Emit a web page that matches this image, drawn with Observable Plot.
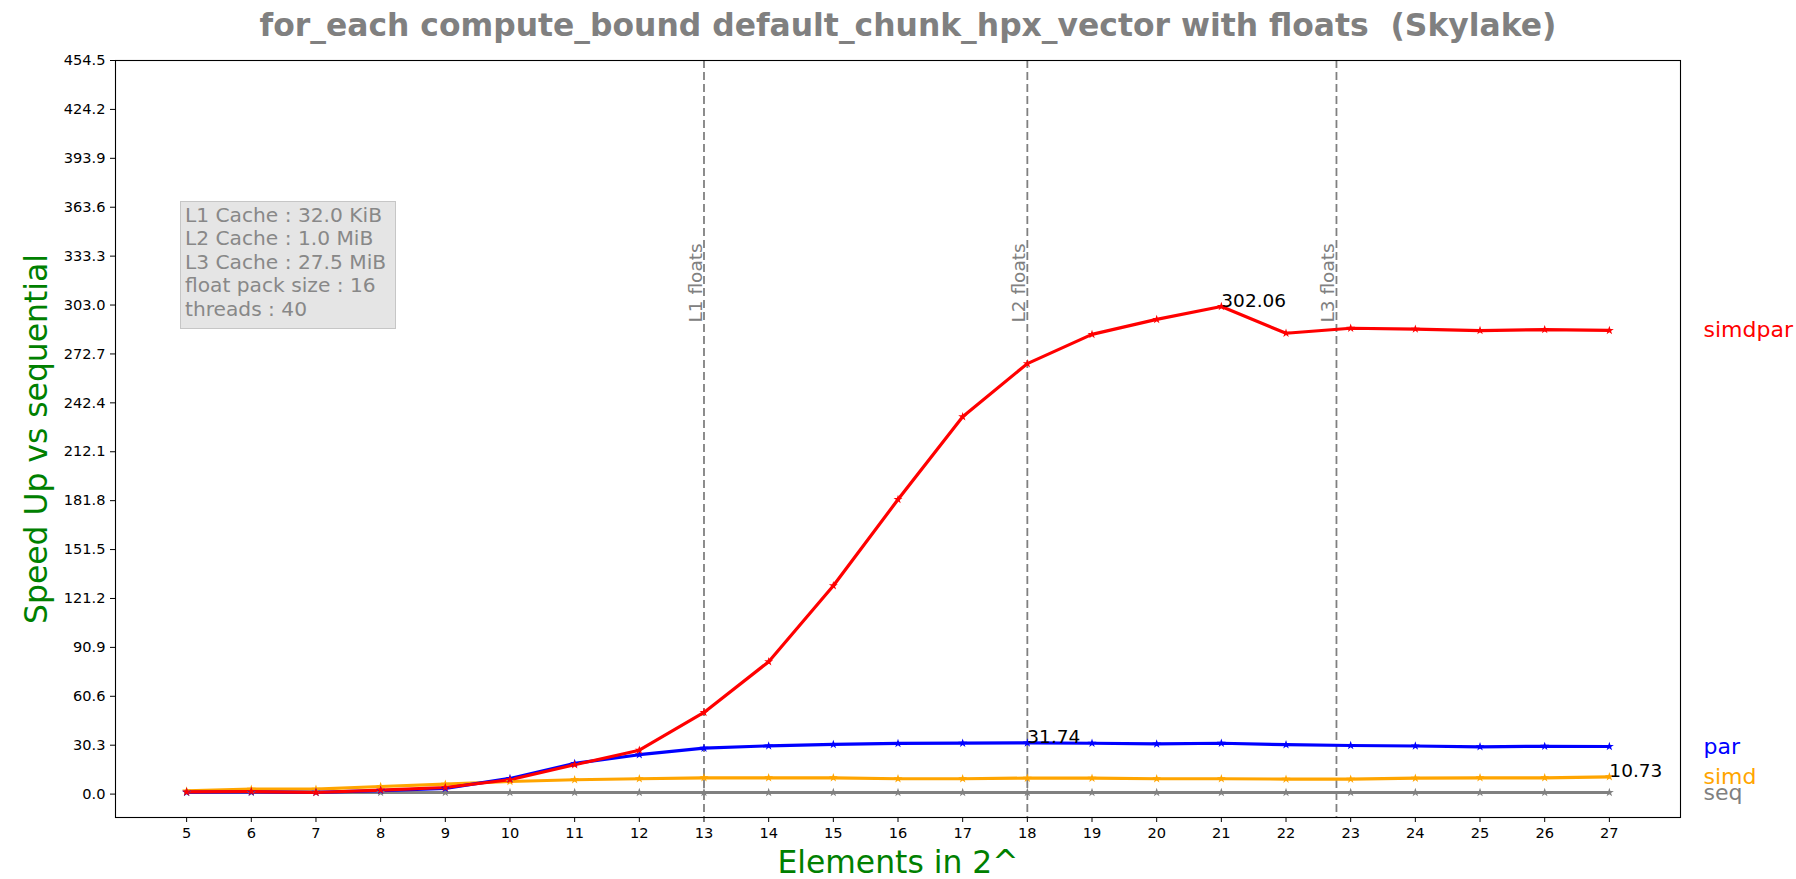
<!DOCTYPE html>
<html>
<head>
<meta charset="utf-8">
<script src="https://cdn.jsdelivr.net/npm/d3@7"></script>
<script src="https://cdn.jsdelivr.net/npm/@observablehq/plot@0.6"></script>
<style>
  html, body { margin: 0; padding: 0; background: #fff; }
  #wrap { position: relative; width: 1796px; height: 879px; }
  svg text { white-space: pre; }
  #info {
    position: absolute; left: 180px; top: 201px; width: 216px; height: 128px;
    box-sizing: border-box; background: #e5e5e5; border: 1.5px solid #c6c6c6;
    font-family: "DejaVu Sans", sans-serif; font-size: 20.2px; line-height: 23.6px;
    color: #888; padding: 1.5px 0 0 4px; white-space: pre;
  }
</style>
</head>
<body>
<div id="wrap"></div>
<script>
// ---- data ----
const xs = [5, 6, 7, 8, 9, 10, 11, 12, 13, 14, 15, 16, 17, 18, 19, 20, 21, 22, 23, 24, 25, 26, 27];
const seq = [1, 1, 1, 1, 1, 1, 1, 1, 1, 1, 1, 1, 1, 1, 1, 1, 1, 1, 1, 1, 1, 1, 1];
const simd = [2.0, 3.1, 3.1, 4.7, 6.2, 7.8, 8.9, 9.5, 10.1, 10.1, 10.1, 9.5, 9.5, 9.9, 9.9, 9.5, 9.5, 9.3, 9.3, 9.9, 10.1, 10.1, 10.73];
const par = [1.2, 1.4, 1.1, 2.2, 3.5, 9.7, 19.0, 24.4, 28.5, 29.9, 30.8, 31.4, 31.6, 31.74, 31.5, 31.1, 31.5, 30.6, 30.1, 29.8, 29.3, 29.6, 29.5];
const simdpar = [1.4, 1.6, 1.0, 2.5, 4.1, 8.9, 18.2, 27.2, 50.6, 82.0, 129.1, 182.5, 233.8, 266.7, 284.8, 294.1, 302.06, 285.5, 288.6, 288.1, 287.2, 287.8, 287.3];
const seriesNames = ["seq", "simd", "par", "simdpar"];
const seriesColors = ["gray", "orange", "blue", "red"];
const annotatedSeries = ["simd", "par", "simdpar"];
const cacheX = [13, 18, 22.78];
const cacheLabels = ["L1 floats", "L2 floats", "L3 floats"];
const xTicks = [5, 6, 7, 8, 9, 10, 11, 12, 13, 14, 15, 16, 17, 18, 19, 20, 21, 22, 23, 24, 25, 26, 27];
const yTicks = [0.0, 30.3, 60.6, 90.9, 121.2, 151.5, 181.8, 212.1, 242.4, 272.7, 303.0, 333.3, 363.6, 393.9, 424.2, 454.5];
const infoLines = ["L1 Cache : 32.0 KiB", "L2 Cache : 1.0 MiB", "L3 Cache : 27.5 MiB", "float pack size : 16", "threads : 40"];
const title = "for_each compute_bound default_chunk_hpx_vector with floats  (Skylake)";
const xLabel = "Elements in 2^";
const yLabel = "Speed Up vs sequential";

// ---- build table ----
const valuesBySeries = {seq, simd, par, simdpar};
const rows = seriesNames.flatMap(name => xs.map((x, j) => ({x, y: valuesBySeries[name][j], series: name})));
const lastRows = seriesNames.map(name => rows.filter(r => r.series === name).at(-1));
const maxRows = annotatedSeries.map(name => d3.greatest(rows.filter(r => r.series === name), r => r.y));
const cacheRows = cacheX.map((x, i) => ({x, label: cacheLabels[i]}));

const font = "DejaVu Sans, sans-serif";

const chart = Plot.plot({
  width: 1796,
  height: 879,
  marginLeft: 115,
  marginRight: 116,
  marginTop: 60,
  marginBottom: 62,
  style: {fontFamily: font, fontSize: "14.6px", color: "#000", background: "#fff", overflow: "visible"},
  x: {domain: [3.9, 28.1]},
  y: {domain: [-14.5, 454.5]},
  color: {domain: seriesNames, range: seriesColors},
  marks: [
    Plot.ruleX(cacheRows, {x: "x", stroke: "gray", strokeWidth: 1.8, strokeDasharray: "8,4"}),
    Plot.text(cacheRows, {x: "x", text: "label", frameAnchor: "top", dy: 262, dx: -2, rotate: -90,
      textAnchor: "start", lineAnchor: "bottom", fill: "gray", fontSize: 18.5}),
    Plot.line(rows, {x: "x", y: "y", z: "series", stroke: "series", strokeWidth: 3.2}),
    Plot.dot(rows, {x: "x", y: "y", fill: "series", symbol: "star", r: 2.8, stroke: "none"}),
    Plot.text(maxRows, {x: "x", y: "y", text: d => d.y.toFixed(2), textAnchor: "start", lineAnchor: "bottom",
      fill: "black", fontSize: 18.5}),
    Plot.text(lastRows, {y: "y", text: "series", frameAnchor: "right", dx: 23, textAnchor: "start",
      fill: "series", fontSize: 22}),
    Plot.axisX({ticks: xTicks, tickFormat: d => String(d), tickSize: 5, tickPadding: 5, fontSize: 14.6, label: null}),
    Plot.axisY({ticks: yTicks, tickFormat: d => d.toFixed(1), tickSize: 5, tickPadding: 5, fontSize: 14.6, label: null}),
    Plot.frame({stroke: "#000", strokeWidth: 1.1}),
    Plot.text([title], {frameAnchor: "top", dy: -25, dx: 10, lineAnchor: "bottom", fontSize: 31.4, fontWeight: "bold", fill: "gray"}),
    Plot.text([yLabel], {frameAnchor: "left", dx: -79, rotate: -90, textAnchor: "middle", lineAnchor: "middle", fontSize: 31.4, fill: "green"}),
    Plot.text([xLabel], {frameAnchor: "bottom", dy: 45, textAnchor: "middle", lineAnchor: "middle", fontSize: 31.4, fill: "green"})
  ]
});

const wrap = document.getElementById("wrap");
wrap.appendChild(chart);
const info = document.createElement("div");
info.id = "info";
info.textContent = infoLines.join("\n");
wrap.appendChild(info);
</script>
</body>
</html>
